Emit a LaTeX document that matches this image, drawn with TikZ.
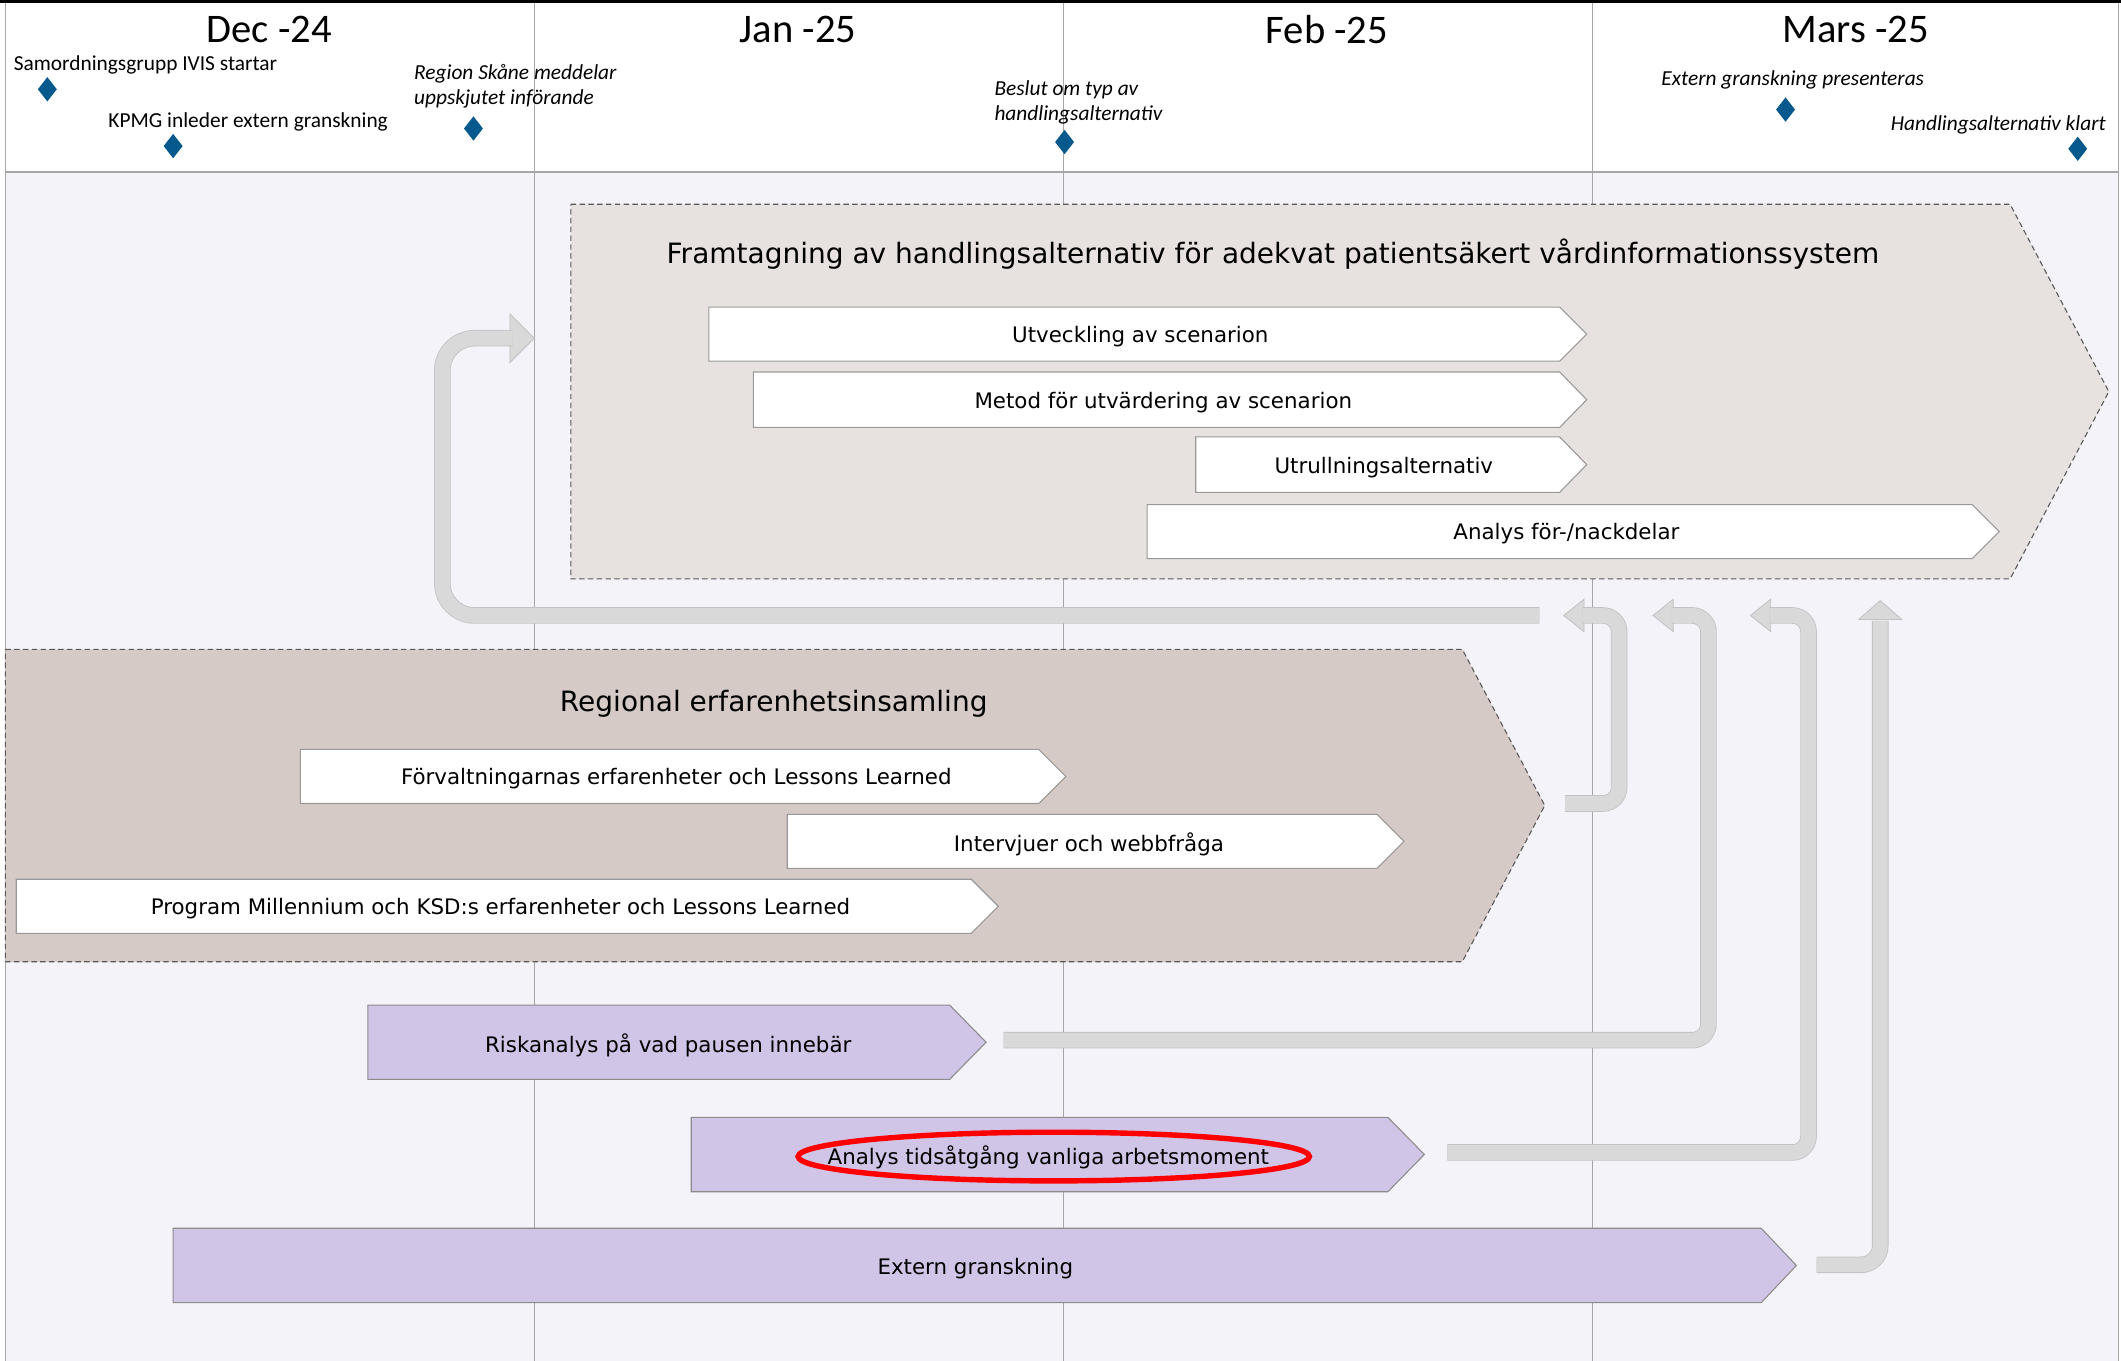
\documentclass[tikz,border=0pt]{standalone}
\usepackage{fontspec}
\setmainfont{DejaVu Sans}
\newfontfamily\calib{Carlito}
\definecolor{bodybg}{HTML}{F3F3F9}
\definecolor{gridc}{HTML}{A6A6A6}
\definecolor{chevA}{HTML}{E7E2E0}
\definecolor{chevB}{HTML}{D5CAC6}
\definecolor{purp}{HTML}{D0C5E7}
\definecolor{conn}{HTML}{D9D9D9}
\definecolor{connb}{HTML}{C2C2C2}
\definecolor{ms}{HTML}{05598C}
\definecolor{dashc}{HTML}{595959}
\newcommand{\chv}[6]{\path[#1] (#2,#3) -- (#4,#3) -- (#6,{(#3+#5)/2}) -- (#4,#5) -- (#2,#5) -- cycle;}
\newcommand{\dmd}[3]{\coordinate (#1) at (#2,#3);\path[dia] ([xshift=-7pt]#1) -- ([yshift=9pt]#1) -- ([xshift=7pt]#1) -- ([yshift=-9pt]#1) -- cycle;}
\begin{document}
\begin{tikzpicture}[x=1pt,y=-1pt,
  gridl/.style={draw=gridc,line width=0.7pt},
  bigchevA/.style={fill=chevA,draw=dashc,line width=0.8pt,dash pattern=on 4pt off 2.5pt},
  bigchevB/.style={fill=chevB,draw=dashc,line width=0.8pt,dash pattern=on 4pt off 2.5pt},
  whitechev/.style={fill=white,draw=black!40,line width=0.8pt},
  purchev/.style={fill=purp,draw=black!45,line width=0.8pt},
  lbl/.style={inner sep=0pt,yshift=-1.5pt,font=\fontsize{15.8}{18}\selectfont},
  ttl/.style={inner sep=0pt,yshift=-1pt,font=\fontsize{20.7}{24}\selectfont},
  mst/.style={inner sep=0pt,anchor=west,align=left,font=\calib\fontsize{15.8}{18.5}\selectfont},
  msi/.style={inner sep=0pt,anchor=west,align=left,font=\calib\itshape\fontsize{15.8}{18.5}\selectfont},
  msr/.style={inner sep=0pt,anchor=east,font=\calib\itshape\fontsize{15.8}{18.5}\selectfont},
  month/.style={inner sep=0pt,font=\calib\fontsize{30}{33}\selectfont},
  dia/.style={fill=ms},
  bar/.style={draw=connb,double=conn,double distance=11pt,line width=0.6pt},
  barhead/.style={fill=conn,draw=connb,line width=0.6pt}
]
\useasboundingbox (0,0) rectangle (1568,1006);
% backgrounds
\fill[white] (0,0) rectangle (1568,1006);
\fill[bodybg] (4,127) rectangle (1566,1006);
\fill[black] (0,0) rectangle (1568,2.4);
\draw[gridl] (4,2) -- (4,1006);
\draw[gridl] (1566,2) -- (1566,1006);
\draw[draw=gridc,line width=1.4pt] (4,127) -- (1566,127);
\foreach \gx in {395,786,1177} {\draw[gridl] (\gx,2) -- (\gx,1006);}

% months
\node[month] (mDec) at (199,21.5) {Dec -24};
\node[month] (mJan) at (590,21.5) {Jan -25};
\node[month] (mFeb) at (981,21.5) {Feb -25};
\node[month] (mMar) at (1372,21.5) {Mars -25};

% milestones
\node[mst] (t1) at (10,48) {Samordningsgrupp IVIS startar};
\dmd{d1}{35}{66}
\node[mst] (t2) at (80,90) {KPMG inleder extern granskning};
\dmd{d2}{128}{108}
\node[msi] (t3) at (306,63.5) {Region Skåne meddelar\\uppskjutet införande};
\dmd{d3}{350}{95}
\node[msi] (t4) at (735,76) {Beslut om typ av\\handlingsalternativ};
\dmd{d4}{787}{105}
\node[msi] (t5) at (1228,59) {Extern granskning presenteras};
\dmd{d5}{1320}{81}
\node[msr] (t6) at (1557,92) {Handlingsalternativ klart};
\dmd{d6}{1536}{110}

% connectors
\coordinate (aStart) at (1138,455);
\coordinate (aEnd) at (378,250);
\path[barhead] (377,232) -- (395,250) -- (377,268) -- cycle;
\draw[bar,rounded corners=24] (aStart) -- (327,455) -- (327,250) -- ([xshift=1pt]aEnd);

\coordinate (bStart) at (1157,594);
\coordinate (bEnd) at (1171,455);
\path[barhead] (1171,443) -- (1156,455) -- (1171,467) -- cycle;
\draw[bar,rounded corners=12] (bStart) -- (1197,594) -- (1197,455) -- ([xshift=-1pt]bEnd);

\coordinate (cStart) at (742,769);
\coordinate (cEnd) at (1237,455);
\path[barhead] (1237,443) -- (1222,455) -- (1237,467) -- cycle;
\draw[bar,rounded corners=12] (cStart) -- (1263,769) -- (1263,455) -- ([xshift=-1pt]cEnd);

\coordinate (dStart) at (1070,852);
\coordinate (dEnd) at (1309,455);
\path[barhead] (1309,443) -- (1294,455) -- (1309,467) -- cycle;
\draw[bar,rounded corners=12] (dStart) -- (1337,852) -- (1337,455) -- ([xshift=-1pt]dEnd);

\coordinate (eStart) at (1343,935);
\coordinate (eEnd) at (1390,458);
\path[barhead] (1374,458) -- (1390,444) -- (1406,458) -- cycle;
\draw[bar,rounded corners=14] (eStart) -- (1390,935) -- ([yshift=-1pt]eEnd);

% big chevron A
\chv{bigchevA}{422}{151}{1486}{428}{1559}
\node[ttl] (ttlA) at (941,187) {Framtagning av handlingsalternativ för adekvat patientsäkert vårdinformationssystem};
\chv{whitechev}{524}{227}{1153}{267}{1173}
\node[lbl] (utv) at (843,247) {Utveckling av scenarion};
\chv{whitechev}{557}{275}{1153}{316}{1173}
\node[lbl] (met) at (860,296) {Metod för utvärdering av scenarion};
\chv{whitechev}{884}{323}{1153}{364}{1173}
\node[lbl] (utr) at (1023,344) {Utrullningsalternativ};
\chv{whitechev}{848}{373}{1458}{413}{1478}
\node[lbl] (ana) at (1158,393) {Analys för-/nackdelar};

% big chevron B
\chv{bigchevB}{4}{480}{1081}{711}{1142}
\node[ttl] (ttlB) at (572,519) {Regional erfarenhetsinsamling};
\chv{whitechev}{222}{554}{768}{594}{788}
\node[lbl] (forv) at (500,574) {Förvaltningarnas erfarenheter och Lessons Learned};
\chv{whitechev}{582}{602}{1018}{642}{1038}
\node[lbl] (intv) at (805,623) {Intervjuer och webbfråga};
\chv{whitechev}{12}{650}{718}{690}{738}
\node[lbl] (prog) at (370,670) {Program Millennium och KSD:s erfarenheter och Lessons Learned};

% purple chevrons
\chv{purchev}{272}{743}{702}{798}{729}
\node[lbl] (risk) at (494,771) {Riskanalys på vad pausen innebär};
\chv{purchev}{511}{826}{1026}{881}{1053}
\node[lbl] (tid) at (775,854) {Analys tidsåtgång vanliga arbetsmoment};
\chv{purchev}{128}{908}{1302}{963}{1328}
\node[lbl] (ext) at (721,936) {Extern granskning};

% red ellipse
\draw[red,line width=4pt] (779,855) ellipse [x radius=189, y radius=18];
\end{tikzpicture}
\end{document}
